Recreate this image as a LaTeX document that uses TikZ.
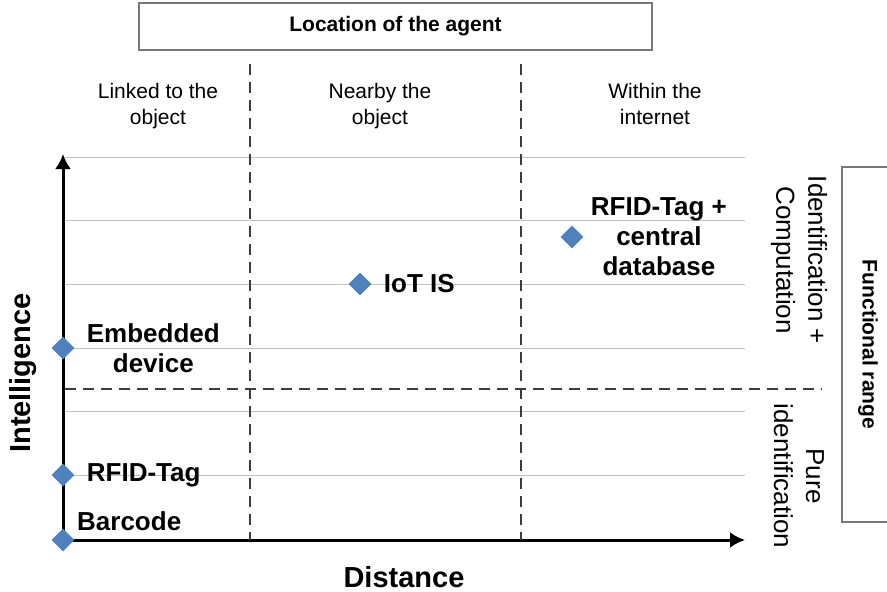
\documentclass[tikz,border=0pt]{standalone}
\usepackage{fontspec}
\setmainfont{Liberation Sans}
\usetikzlibrary{positioning,arrows.meta,shapes.geometric}
\definecolor{MarkBlue}{RGB}{79,129,189}
\definecolor{GridGray}{RGB}{195,195,195}
\definecolor{DashGray}{RGB}{60,60,60}
\definecolor{BoxGray}{RGB}{120,120,120}

\begin{document}
\begin{tikzpicture}[
    x=1pt, y=-1pt,
    >={Latex[length=15pt,width=16pt]},
    head/.style={
        font=\fontsize{21}{26}\selectfont,
        align=center,
        anchor=north
    },
    lbl/.style={
        font=\fontsize{26}{30}\selectfont\bfseries,
        align=center,
        inner sep=0pt
    },
    side/.style={
        font=\fontsize{26}{32}\selectfont,
        align=center,
        rotate=-90
    },
    agentmark/.style={
        diamond,
        fill=MarkBlue,
        inner sep=0pt,
        minimum size=23pt
    },
    axis/.style={
        ->,
        line width=3pt,
        draw=black
    },
    sep/.style={
        line width=2.5pt,
        draw=DashGray,
        dash pattern=on 11pt off 7pt
    },
    grid/.style={
        line width=1pt,
        draw=GridGray
    }
]
\useasboundingbox (0,0) rectangle (887,592);

% frame boxes
\node[draw=BoxGray, line width=1.2pt, minimum width=513pt, minimum height=47pt,
      font=\fontsize{21}{25}\selectfont\bfseries] (location) at (395.5,26.5) {Location of the agent};
\node[draw=BoxGray, line width=1.2pt, rotate=-90, minimum width=355pt, minimum height=52pt,
      font=\fontsize{21}{25}\selectfont\bfseries] (range) at (868,344.5) {Functional range};

% column headings
\node[head] (linked) at (158,80) {Linked to the\\object};
\node[head] (nearby) at (380,80) {Nearby the\\object};
\node[head] (within) at (655,80) {Within the\\internet};

% grid lines
\foreach \y in {157,220,284,348,411,475}
    \draw[grid] (65,\y) -- (745,\y);

% axes
\coordinate (origin) at (63,540);
\coordinate (ytop) at (63,154);
\coordinate (xend) at (745,540);
\draw[axis] (origin) -- (ytop);
\draw[axis] (origin) -- (xend);

% separators
\coordinate (sepatop) at (250,64);
\coordinate (sepabot) at (250,540);
\coordinate (sepbtop) at (521,64);
\coordinate (sepbbot) at (521,540);
\coordinate (sephl) at (65,389);
\coordinate (sephr) at (822,389);
\draw[sep] (sepatop) -- (sepabot);
\draw[sep] (sepbtop) -- (sepbbot);
\draw[sep] (sephl) -- (sephr);

% axis titles
\node[font=\fontsize{29}{34}\selectfont\bfseries, rotate=90] (intel) at (23,373) {Intelligence};
\node[font=\fontsize{29}{34}\selectfont\bfseries] (dist) at (404,577) {Distance};
\node[side] (comp) at (799,260) {Identification +\\Computation};
\node[side] (pure) at (799,476) {Pure\\identification};

% agents
\node[agentmark] (embedded) at (63,348) {};
\node[agentmark] (rfid) at (63,475) {};
\node[agentmark] (barcode) at (63,540) {};
\node[agentmark] (iot) at (360,284) {};
\node[agentmark] (central) at (572,237) {};

\node[lbl, right=12pt of embedded] (embeddedtxt) {Embedded\\device};
\node[lbl, right=12pt of rfid] (rfidtxt) {RFID-Tag};
\node[lbl, anchor=south west] (barcodetxt) at (77,531) {Barcode};
\node[lbl, right=12pt of iot] (iottxt) {IoT IS};
\node[lbl, right=7pt of central] (centraltxt) {RFID-Tag +\\central\\database};

\end{tikzpicture}
\end{document}
